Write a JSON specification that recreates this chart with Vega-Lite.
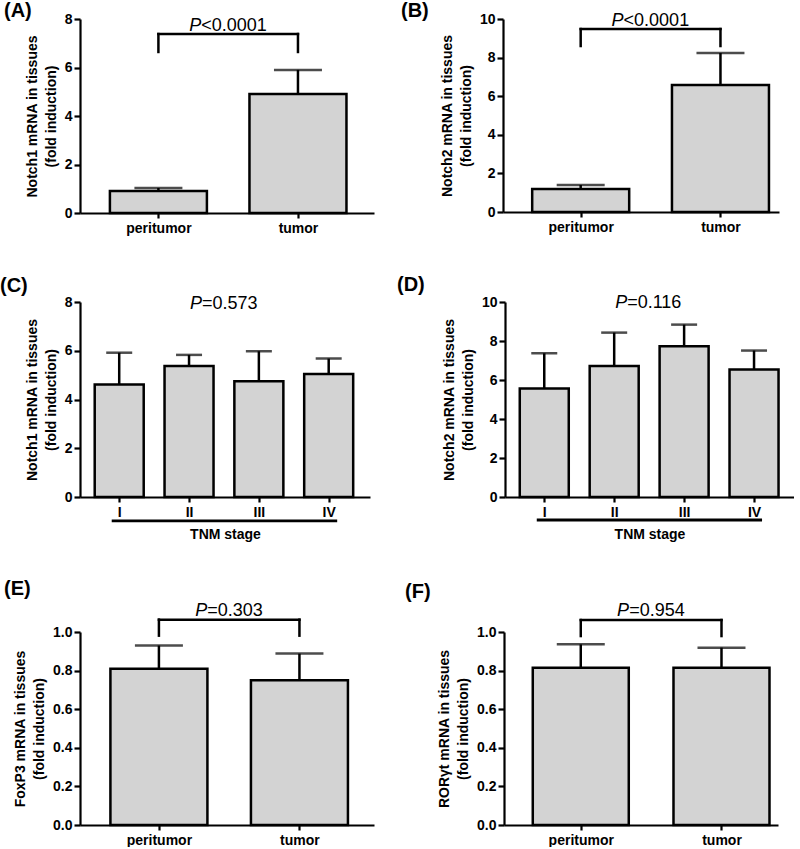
{
  "$schema": "https://vega.github.io/schema/vega-lite/v6.json",
  "padding": {"left": 0, "top": 1, "right": 0, "bottom": 0},
  "background": "white",
  "datasets": {
    "A": [{"idx": 1, "group": "peritumor", "mean": 0.91, "upper": 1.03}, {"idx": 2, "group": "tumor", "mean": 4.91, "upper": 5.9}],
    "B": [{"idx": 1, "group": "peritumor", "mean": 1.19, "upper": 1.4}, {"idx": 2, "group": "tumor", "mean": 6.58, "upper": 8.24}],
    "C": [{"idx": 1, "group": "I", "mean": 4.62, "upper": 5.92}, {"idx": 2, "group": "II", "mean": 5.37, "upper": 5.83}, {"idx": 3, "group": "III", "mean": 4.75, "upper": 5.98}, {"idx": 4, "group": "IV", "mean": 5.05, "upper": 5.68}],
    "D": [{"idx": 1, "group": "I", "mean": 5.57, "upper": 7.37}, {"idx": 2, "group": "II", "mean": 6.72, "upper": 8.43}, {"idx": 3, "group": "III", "mean": 7.73, "upper": 8.84}, {"idx": 4, "group": "IV", "mean": 6.54, "upper": 7.51}],
    "E": [{"idx": 1, "group": "peritumor", "mean": 0.81, "upper": 0.93}, {"idx": 2, "group": "tumor", "mean": 0.75, "upper": 0.888}],
    "F": [{"idx": 1, "group": "peritumor", "mean": 0.815, "upper": 0.936}, {"idx": 2, "group": "tumor", "mean": 0.815, "upper": 0.919}]
  },
  "spacing": 37,
  "vconcat": [
    {
      "spacing": 40,
      "vconcat": [
        {
          "spacing": 27,
          "hconcat": [
            {
              "width": 294, "height": 194,
              "title": {"text": "(A)", "dx": -76, "offset": -9},
              "data": {"name": "A"},
              "encoding": {"x": {"field": "idx", "type": "quantitative", "title": null, "scale": {"domain": [0.474, 2.509], "nice": false, "zero": false}, "axis": {"values": [1, 2], "labelExpr": "datum.value == 1 ? 'peritumor' : 'tumor'"}}},
              "layer": [
                {"mark": {"type": "bar", "width": 97, "fill": "#d3d3d3", "stroke": "black", "strokeWidth": 2.5}, "encoding": {"y": {"field": "mean", "type": "quantitative", "scale": {"domain": [0, 8], "nice": false}, "axis": {"values": [0, 2, 4, 6, 8], "tickCount": 10, "titleLineHeight": 19, "title": ["Notch1 mRNA in tissues", "(fold induction)"]}}}},
                {"mark": {"type": "rule", "strokeWidth": 2.5, "color": "black"}, "encoding": {"y": {"field": "mean", "type": "quantitative"}, "y2": {"field": "upper"}}},
                {"mark": {"type": "tick", "orient": "horizontal", "size": 48, "thickness": 2.5, "color": "black"}, "encoding": {"y": {"field": "upper", "type": "quantitative"}}},
                {"mark": {"type": "rule", "strokeWidth": 2.5, "color": "black", "strokeCap": "square"}, "encoding": {"y": {"datum": 6.64}, "y2": {"datum": 7.38}}},
                {"mark": {"type": "rule", "strokeWidth": 2.5, "color": "black", "strokeCap": "square"}, "encoding": {"x": {"aggregate": "min", "field": "idx", "type": "quantitative", "title": null}, "x2": {"aggregate": "max", "field": "idx"}, "y": {"datum": 7.38}}},
                {"mark": {"type": "text", "text": "P", "fontStyle": "italic", "fontSize": 18, "align": "right", "baseline": "alphabetic", "dx": -27, "dy": -3}, "encoding": {"x": {"aggregate": "mean", "field": "idx", "type": "quantitative", "title": null}, "y": {"datum": 7.38}}},
                {"mark": {"type": "text", "text": "<0.0001", "fontSize": 18, "align": "left", "baseline": "alphabetic", "dx": -27, "dy": -3}, "encoding": {"x": {"aggregate": "mean", "field": "idx", "type": "quantitative", "title": null}, "y": {"datum": 7.38}}}
              ]
            },
            {
              "width": 276, "height": 193,
              "title": {"text": "(B)", "dx": -102, "offset": -9},
              "data": {"name": "B"},
              "encoding": {"x": {"field": "idx", "type": "quantitative", "title": null, "scale": {"domain": [0.48, 2.383], "nice": false, "zero": false}, "axis": {"values": [1, 2], "labelExpr": "datum.value == 1 ? 'peritumor' : 'tumor'"}}},
              "layer": [
                {"mark": {"type": "bar", "width": 97, "fill": "#d3d3d3", "stroke": "black", "strokeWidth": 2.5}, "encoding": {"y": {"field": "mean", "type": "quantitative", "scale": {"domain": [0, 10], "nice": false}, "axis": {"values": [0, 2, 4, 6, 8, 10], "tickCount": 10, "titleLineHeight": 19, "title": ["Notch2 mRNA in tissues", "(fold induction)"]}}}},
                {"mark": {"type": "rule", "strokeWidth": 2.5, "color": "black"}, "encoding": {"y": {"field": "mean", "type": "quantitative"}, "y2": {"field": "upper"}}},
                {"mark": {"type": "tick", "orient": "horizontal", "size": 48, "thickness": 2.5, "color": "black"}, "encoding": {"y": {"field": "upper", "type": "quantitative"}}},
                {"mark": {"type": "rule", "strokeWidth": 2.5, "color": "black", "strokeCap": "square"}, "encoding": {"y": {"datum": 8.6}, "y2": {"datum": 9.48}}},
                {"mark": {"type": "rule", "strokeWidth": 2.5, "color": "black", "strokeCap": "square"}, "encoding": {"x": {"aggregate": "min", "field": "idx", "type": "quantitative", "title": null}, "x2": {"aggregate": "max", "field": "idx"}, "y": {"datum": 9.48}}},
                {"mark": {"type": "text", "text": "P", "fontStyle": "italic", "fontSize": 18, "align": "right", "baseline": "alphabetic", "dx": -27, "dy": -3}, "encoding": {"x": {"aggregate": "mean", "field": "idx", "type": "quantitative", "title": null}, "y": {"datum": 9.48}}},
                {"mark": {"type": "text", "text": "<0.0001", "fontSize": 18, "align": "left", "baseline": "alphabetic", "dx": -27, "dy": -3}, "encoding": {"x": {"aggregate": "mean", "field": "idx", "type": "quantitative", "title": null}, "y": {"datum": 9.48}}}
              ]
            }
          ]
        },
        {
          "spacing": 27,
          "hconcat": [
            {
              "width": 290, "height": 195,
              "title": {"text": "(C)", "dx": -80, "offset": -1},
              "data": {"name": "C"},
              "encoding": {"x": {"field": "idx", "type": "quantitative", "title": "TNM stage", "scale": {"domain": [0.51, 4.52], "nice": false, "zero": false}, "axis": {"values": [1, 2, 3, 4], "labelExpr": "['', 'I', 'II', 'III', 'IV'][datum.value]", "titleFontSize": 14, "titlePadding": 8}}},
              "layer": [
                {"mark": {"type": "bar", "width": 49, "fill": "#d3d3d3", "stroke": "black", "strokeWidth": 2.5}, "encoding": {"y": {"field": "mean", "type": "quantitative", "scale": {"domain": [0, 8], "nice": false}, "axis": {"values": [0, 2, 4, 6, 8], "tickCount": 10, "titleLineHeight": 19, "title": ["Notch1 mRNA in tissues", "(fold induction)"]}}}},
                {"mark": {"type": "rule", "strokeWidth": 2.5, "color": "black"}, "encoding": {"y": {"field": "mean", "type": "quantitative"}, "y2": {"field": "upper"}}},
                {"mark": {"type": "tick", "orient": "horizontal", "size": 26, "thickness": 2.5, "color": "black"}, "encoding": {"y": {"field": "upper", "type": "quantitative"}}},
                {"mark": {"type": "rule", "strokeWidth": 2.8, "color": "black", "xOffset": -7.5, "x2Offset": 8.5}, "encoding": {"x": {"aggregate": "min", "field": "idx", "type": "quantitative", "title": "TNM stage"}, "x2": {"aggregate": "max", "field": "idx"}, "y": {"datum": -0.98}}},
                {"mark": {"type": "text", "text": "P", "fontStyle": "italic", "fontSize": 18, "align": "right", "baseline": "alphabetic", "dx": -22}, "encoding": {"x": {"aggregate": "mean", "field": "idx", "type": "quantitative", "title": "TNM stage"}, "y": {"datum": 7.71}}},
                {"mark": {"type": "text", "text": "=0.573", "fontSize": 18, "align": "left", "baseline": "alphabetic", "dx": -22}, "encoding": {"x": {"aggregate": "mean", "field": "idx", "type": "quantitative", "title": "TNM stage"}, "y": {"datum": 7.71}}}
              ]
            },
            {
              "width": 289, "height": 195,
              "title": {"text": "(D)", "dx": -108, "offset": -1},
              "data": {"name": "D"},
              "encoding": {"x": {"field": "idx", "type": "quantitative", "title": "TNM stage", "scale": {"domain": [0.51, 4.5], "nice": false, "zero": false}, "axis": {"values": [1, 2, 3, 4], "labelExpr": "['', 'I', 'II', 'III', 'IV'][datum.value]", "titleFontSize": 14, "titlePadding": 8}}},
              "layer": [
                {"mark": {"type": "bar", "width": 49, "fill": "#d3d3d3", "stroke": "black", "strokeWidth": 2.5}, "encoding": {"y": {"field": "mean", "type": "quantitative", "scale": {"domain": [0, 10], "nice": false}, "axis": {"values": [0, 2, 4, 6, 8, 10], "tickCount": 10, "titleLineHeight": 19, "title": ["Notch2 mRNA in tissues", "(fold induction)"]}}}},
                {"mark": {"type": "rule", "strokeWidth": 2.5, "color": "black"}, "encoding": {"y": {"field": "mean", "type": "quantitative"}, "y2": {"field": "upper"}}},
                {"mark": {"type": "tick", "orient": "horizontal", "size": 26, "thickness": 2.5, "color": "black"}, "encoding": {"y": {"field": "upper", "type": "quantitative"}}},
                {"mark": {"type": "rule", "strokeWidth": 2.8, "color": "black", "xOffset": -7.5, "x2Offset": 8}, "encoding": {"x": {"aggregate": "min", "field": "idx", "type": "quantitative", "title": "TNM stage"}, "x2": {"aggregate": "max", "field": "idx"}, "y": {"datum": -1.18}}},
                {"mark": {"type": "text", "text": "P", "fontStyle": "italic", "fontSize": 18, "align": "right", "baseline": "alphabetic", "dx": -22}, "encoding": {"x": {"aggregate": "mean", "field": "idx", "type": "quantitative", "title": "TNM stage"}, "y": {"datum": 9.69}}},
                {"mark": {"type": "text", "text": "=0.116", "fontSize": 18, "align": "left", "baseline": "alphabetic", "dx": -22}, "encoding": {"x": {"aggregate": "mean", "field": "idx", "type": "quantitative", "title": "TNM stage"}, "y": {"datum": 9.69}}}
              ]
            }
          ]
        }
      ]
    },
    {
      "spacing": 31,
      "hconcat": [
        {
          "width": 294, "height": 193,
          "title": {"text": "(E)", "dx": -76, "offset": 3},
          "data": {"name": "E"},
          "encoding": {"x": {"field": "idx", "type": "quantitative", "title": null, "scale": {"domain": [0.474, 2.495], "nice": false, "zero": false}, "axis": {"values": [1, 2], "labelExpr": "datum.value == 1 ? 'peritumor' : 'tumor'"}}},
          "layer": [
            {"mark": {"type": "bar", "width": 97, "fill": "#d3d3d3", "stroke": "black", "strokeWidth": 2.5}, "encoding": {"y": {"field": "mean", "type": "quantitative", "scale": {"domain": [0, 1], "nice": false}, "axis": {"values": [0, 0.2, 0.4, 0.6, 0.8, 1.0], "tickCount": 10, "titleLineHeight": 19, "format": ".1f", "title": ["FoxP3 mRNA in tissues", "(fold induction)"]}}}},
            {"mark": {"type": "rule", "strokeWidth": 2.5, "color": "black"}, "encoding": {"y": {"field": "mean", "type": "quantitative"}, "y2": {"field": "upper"}}},
            {"mark": {"type": "tick", "orient": "horizontal", "size": 48, "thickness": 2.5, "color": "black"}, "encoding": {"y": {"field": "upper", "type": "quantitative"}}},
            {"mark": {"type": "rule", "strokeWidth": 2.5, "color": "black", "strokeCap": "square"}, "encoding": {"y": {"datum": 0.981}, "y2": {"datum": 1.064}}},
            {"mark": {"type": "rule", "strokeWidth": 2.5, "color": "black", "strokeCap": "square"}, "encoding": {"x": {"aggregate": "min", "field": "idx", "type": "quantitative", "title": null}, "x2": {"aggregate": "max", "field": "idx"}, "y": {"datum": 1.064}}},
            {"mark": {"type": "text", "text": "P", "fontStyle": "italic", "fontSize": 18, "align": "right", "baseline": "alphabetic", "dx": -22, "dy": -4}, "encoding": {"x": {"aggregate": "mean", "field": "idx", "type": "quantitative", "title": null}, "y": {"datum": 1.064}}},
            {"mark": {"type": "text", "text": "=0.303", "fontSize": 18, "align": "left", "baseline": "alphabetic", "dx": -22, "dy": -4}, "encoding": {"x": {"aggregate": "mean", "field": "idx", "type": "quantitative", "title": null}, "y": {"datum": 1.064}}}
          ]
        },
        {
          "width": 274, "height": 193,
          "title": {"text": "(F)", "dx": -99, "offset": 0},
          "data": {"name": "F"},
          "encoding": {"x": {"field": "idx", "type": "quantitative", "title": null, "scale": {"domain": [0.49, 2.366], "nice": false, "zero": false}, "axis": {"values": [1, 2], "labelExpr": "datum.value == 1 ? 'peritumor' : 'tumor'"}}},
          "layer": [
            {"mark": {"type": "bar", "width": 96, "fill": "#d3d3d3", "stroke": "black", "strokeWidth": 2.5}, "encoding": {"y": {"field": "mean", "type": "quantitative", "scale": {"domain": [0, 1], "nice": false}, "axis": {"values": [0, 0.2, 0.4, 0.6, 0.8, 1.0], "tickCount": 10, "titleLineHeight": 19, "format": ".1f", "title": ["RORγt mRNA in tissues", "(fold induction)"]}}}},
            {"mark": {"type": "rule", "strokeWidth": 2.5, "color": "black"}, "encoding": {"y": {"field": "mean", "type": "quantitative"}, "y2": {"field": "upper"}}},
            {"mark": {"type": "tick", "orient": "horizontal", "size": 48, "thickness": 2.5, "color": "black"}, "encoding": {"y": {"field": "upper", "type": "quantitative"}}},
            {"mark": {"type": "rule", "strokeWidth": 2.5, "color": "black", "strokeCap": "square"}, "encoding": {"y": {"datum": 0.979}, "y2": {"datum": 1.062}}},
            {"mark": {"type": "rule", "strokeWidth": 2.5, "color": "black", "strokeCap": "square"}, "encoding": {"x": {"aggregate": "min", "field": "idx", "type": "quantitative", "title": null}, "x2": {"aggregate": "max", "field": "idx"}, "y": {"datum": 1.062}}},
            {"mark": {"type": "text", "text": "P", "fontStyle": "italic", "fontSize": 18, "align": "right", "baseline": "alphabetic", "dx": -22, "dy": -4}, "encoding": {"x": {"aggregate": "mean", "field": "idx", "type": "quantitative", "title": null}, "y": {"datum": 1.062}}},
            {"mark": {"type": "text", "text": "=0.954", "fontSize": 18, "align": "left", "baseline": "alphabetic", "dx": -22, "dy": -4}, "encoding": {"x": {"aggregate": "mean", "field": "idx", "type": "quantitative", "title": null}, "y": {"datum": 1.062}}}
          ]
        }
      ]
    }
  ],
  "config": {
    "view": {"stroke": null},
    "font": "Liberation Sans",
    "text": {"font": "Liberation Sans", "color": "black"},
    "title": {"font": "Liberation Sans", "fontSize": 20, "fontWeight": "bold", "color": "black", "anchor": "start", "frame": "group", "baseline": "alphabetic"},
    "axis": {
      "grid": false,
      "domainColor": "black", "domainWidth": 2.2,
      "tickColor": "black", "tickWidth": 2.2, "tickSize": 5,
      "labelFont": "Liberation Sans", "labelFontSize": 14, "labelFontWeight": "bold", "labelColor": "black", "labelPadding": 3,
      "labelOverlap": false,
      "titleFont": "Liberation Sans", "titleFontSize": 14, "titleFontWeight": "bold", "titleColor": "black",
      "labelFlush": false
    },
    "axisY": {"tickSize": 6, "labelPadding": 2, "titlePadding": 6}
  }
}
